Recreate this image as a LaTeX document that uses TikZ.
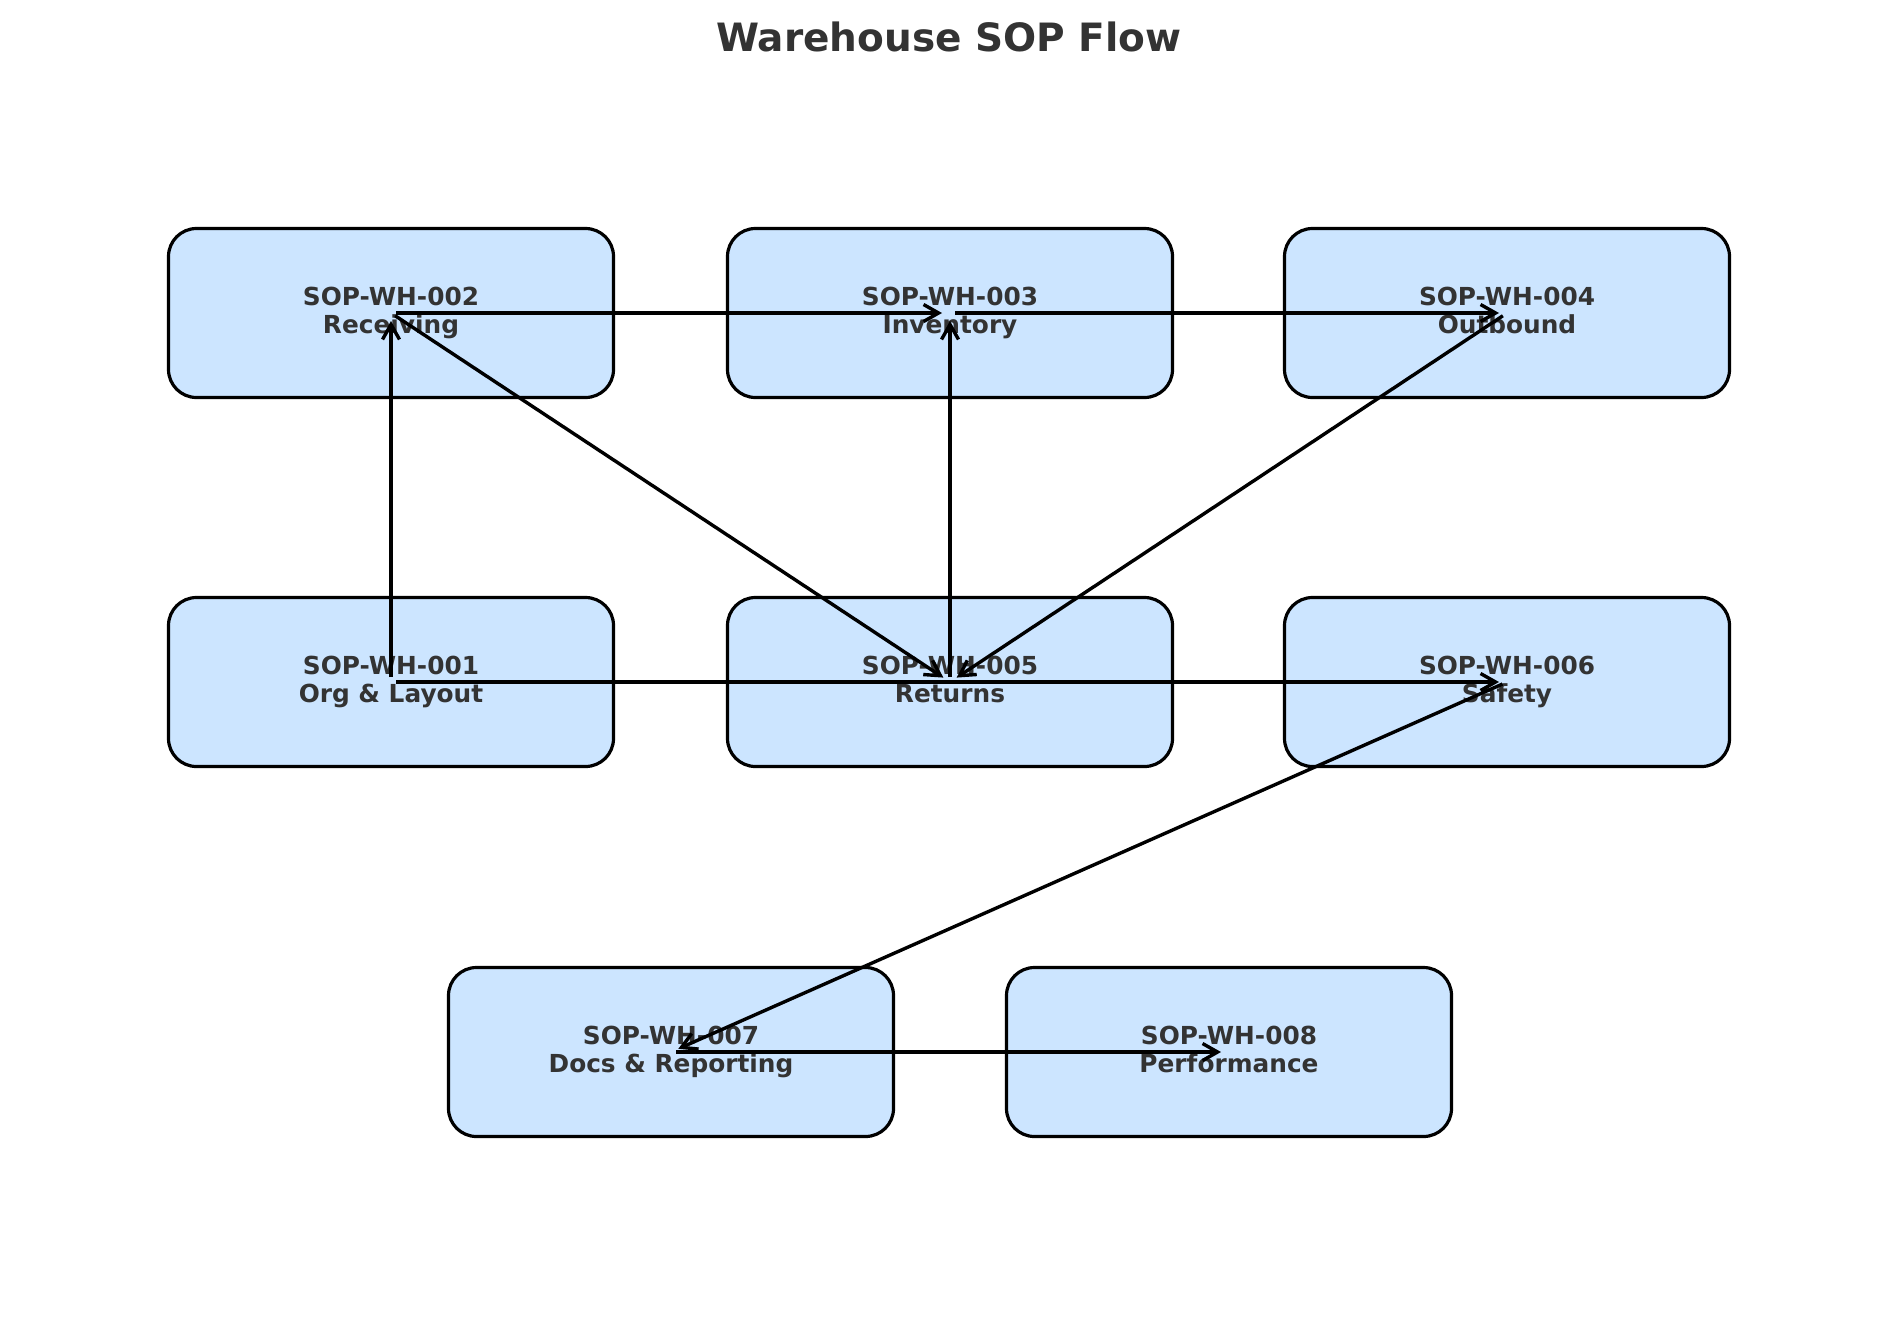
\documentclass[tikz,border=0pt]{standalone}
\usepackage{fontspec}
\setmainfont{DejaVu Sans}
\usetikzlibrary{arrows.meta}
\definecolor{boxblue}{HTML}{CCE5FF}
\definecolor{textgray}{HTML}{333333}
\begin{document}
\begin{tikzpicture}[x=0.5pt, y=-0.5pt,
    sopbox/.style={draw, line width=1.6pt, fill=boxblue, rounded corners=14pt,
      minimum width=222.5pt, minimum height=84.5pt, inner sep=0pt,
      align=center, text=textgray, font=\fontsize{12.4}{14}\selectfont\bfseries,
      execute at end node={\vphantom{g}}},
    flow/.style={-{Straight Barb[length=7.5pt,width=8.5pt]}, line width=1.7pt,
      shorten <=2.5pt, shorten >=4pt}]
            \useasboundingbox (0,0) rectangle (1900,1318);
            \node[anchor=base, text=textgray, font=\fontsize{19.5}{23}\selectfont\bfseries] (title) at (949,51) {Warehouse SOP Flow};

            \node[sopbox] (wh1) at (391,682) {SOP-WH-001\\Org \& Layout};
            \node[sopbox] (wh2) at (391,313) {SOP-WH-002\\Receiving};
            \node[sopbox] (wh3) at (950,313) {SOP-WH-003\\Inventory};
            \node[sopbox] (wh4) at (1507,313) {SOP-WH-004\\Outbound};
            \node[sopbox] (wh5) at (950,682) {SOP-WH-005\\Returns};
            \node[sopbox] (wh6) at (1507,682) {SOP-WH-006\\Safety};
            \node[sopbox] (wh7) at (671,1052) {SOP-WH-007\\Docs \& Reporting};
            \node[sopbox] (wh8) at (1229,1052) {SOP-WH-008\\Performance};

            \draw[flow] (wh1.center) -- (wh2.center);
            \draw[flow] (wh2.center) -- (wh3.center);
            \draw[flow] (wh3.center) -- (wh4.center);
            \draw[flow] (wh2.center) -- (wh5.center);
            \draw[flow] (wh5.center) -- (wh3.center);
            \draw[flow] (wh4.center) -- (wh5.center);
            \draw[flow] (wh1.center) -- (wh6.center);
            \draw[flow] (wh6.center) -- (wh7.center);
            \draw[flow] (wh7.center) -- (wh8.center);
        \end{tikzpicture}
\end{document}
